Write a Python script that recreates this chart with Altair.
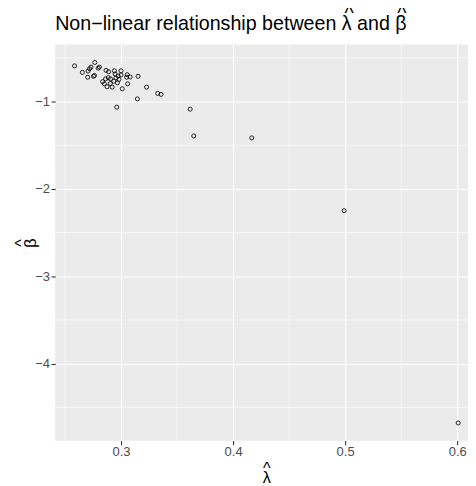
import altair as alt
import pandas as pd

# estimated values
lambda_hat = [0.2585, 0.2655, 0.2702, 0.2719, 0.2732, 0.2706, 0.2766, 0.2754, 0.2763, 0.2796,
              0.2807, 0.2866, 0.2889, 0.2941, 0.3000, 0.2836, 0.2862, 0.2886, 0.2906, 0.2875,
              0.2921, 0.2904, 0.2936, 0.2954, 0.2974, 0.2982, 0.3000, 0.2968, 0.3011, 0.3055,
              0.3082, 0.3050, 0.3059, 0.3152, 0.3228, 0.3146, 0.2962, 0.3327, 0.3357, 0.3617,
              0.3649, 0.4167, 0.4991, 0.6009, 0.2851, 0.2947]
beta_hat = [-0.592, -0.666, -0.722, -0.625, -0.606, -0.651, -0.553, -0.711, -0.702, -0.618,
            -0.606, -0.643, -0.659, -0.648, -0.648, -0.772, -0.741, -0.727, -0.741, -0.831,
            -0.835, -0.794, -0.767, -0.730, -0.708, -0.747, -0.696, -0.786, -0.854, -0.693,
            -0.719, -0.722, -0.798, -0.711, -0.835, -0.970, -1.064, -0.907, -0.918, -1.087,
            -1.394, -1.416, -2.249, -4.678, -0.797, -0.685]

x_ticks = [0.3, 0.4, 0.5, 0.6]
y_ticks = [-1, -2, -3, -4]
x_minor = [0.25, 0.35, 0.45, 0.55]
y_minor = [-0.5, -1.5, -2.5, -3.5, -4.5]

X_DOMAIN = [0.24123, 0.60965]
Y_DOMAIN = [-4.8807, -0.3476]

NBSP = "\u00a0"
ZWSP = "\u200b"  # keeps the leading spaces from being trimmed
# hats line placed over the lambda and beta of the title line
TITLE = [
    ZWSP + NBSP * 53 + "^" + NBSP * 8 + "^",
    "Non\u2212linear relationship between \u03bb and \u03b2",
]
X_TITLE = ["^", "\u03bb"]
Y_TITLE = ["^", "\u03b2"]
FONT = "Liberation Sans"

pts = pd.DataFrame({"lambda": lambda_hat, "beta": beta_hat})
xs = alt.Scale(domain=X_DOMAIN, nice=False, zero=False)
ys = alt.Scale(domain=Y_DOMAIN, nice=False, zero=False)

minor_x = alt.Chart(pd.DataFrame({"v": x_minor})).mark_rule(
    color="white", strokeWidth=0.6
).encode(x=alt.X("v:Q", scale=xs, axis=None))

minor_y = alt.Chart(pd.DataFrame({"w": y_minor})).mark_rule(
    color="white", strokeWidth=0.6
).encode(y=alt.Y("w:Q", scale=ys, axis=None))

common_axis = dict(
    labelFont=FONT, labelFontSize=13.2, labelColor="#4D4D4D",
    tickColor="#333333", tickSize=4.2, tickWidth=1.1,
    domain=False, grid=True, gridColor="white", gridWidth=1.15,
    titleFont=FONT, titleFontSize=16.5, titleFontWeight="normal", titleColor="black",
    titleLineHeight=9.6,
)

points = alt.Chart(pts).mark_point(
    shape="circle", filled=False, color="black", size=17, strokeWidth=0.85, opacity=1
).encode(
    x=alt.X("lambda:Q", scale=xs, axis=alt.Axis(
        orient="bottom", title=X_TITLE, values=x_ticks, format=".1f", labelPadding=1,
        titleX=214.7, titleY=33.2, titleAlign="center", titleBaseline="alphabetic",
        **common_axis)),
    y=alt.Y("beta:Q", scale=ys, axis=alt.Axis(
        orient="left", title=Y_TITLE, values=y_ticks, format="d", labelPadding=1.5,
        titleX=-29.5, titleY=201.5, titleAngle=270, titleAlign="center",
        titleBaseline="alphabetic",
        **common_axis)),
)

chart = alt.layer(minor_x, minor_y, points).resolve_axis(
    x="independent", y="independent"
).properties(
    width=420, height=403,
    autosize=alt.AutoSizeParams(type="none"),
    padding={"left": 48, "top": 33, "right": 0, "bottom": 42},
    title=alt.TitleParams(
        text=TITLE, anchor="start", frame="group", fontSize=20, font=FONT,
        fontWeight="normal", color="black", offset=-5.3, baseline="alphabetic",
        lineHeight=10,
    ),
).configure_view(fill="#EBEBEB", stroke=None)

chart.save("out.html", embed_options={"renderer": "svg", "actions": False})
